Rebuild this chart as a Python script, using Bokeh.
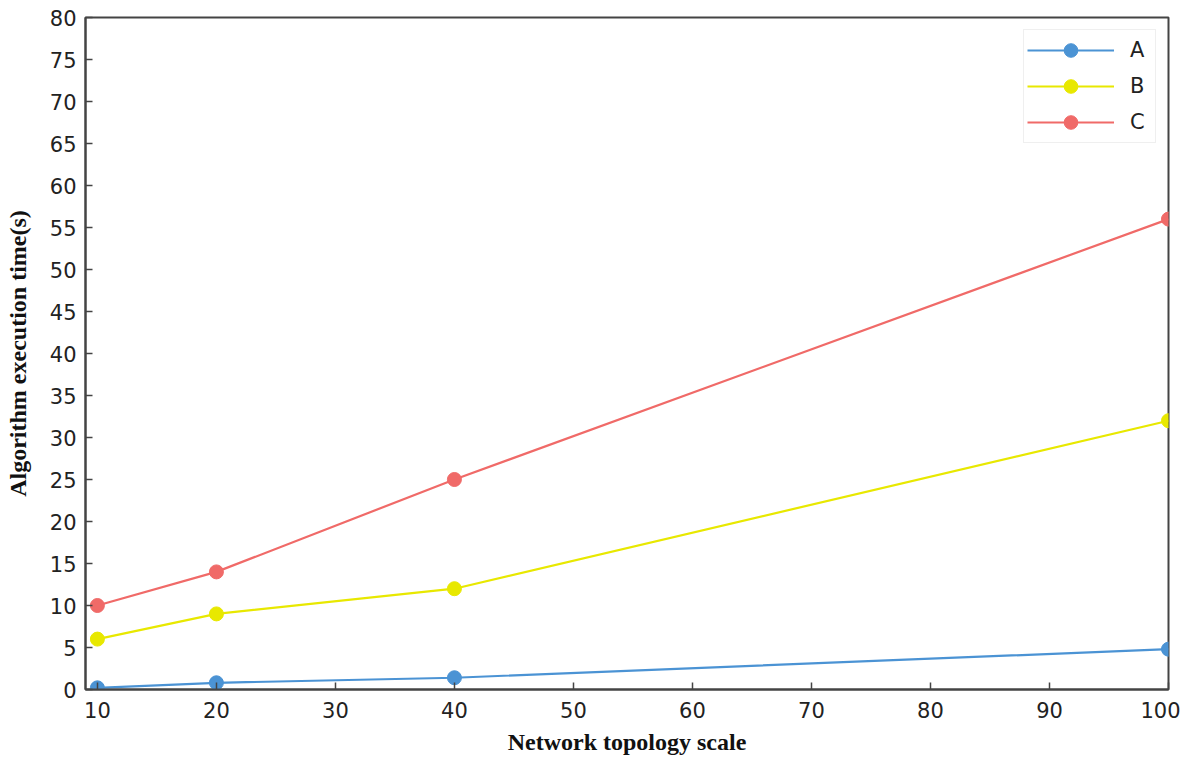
from bokeh.plotting import figure
from bokeh.embed import file_html
from bokeh.resources import INLINE
from bokeh.models import Range1d, FixedTicker, Legend, LegendItem

x_vals = [10, 20, 40, 100]
series_a = [0.2, 0.8, 1.4, 4.8]
series_b = [6, 9, 12, 32]
series_c = [10, 14, 25, 56]
names = ["A", "B", "C"]
colors = ["#4b93d4", "#e8e800", "#f06a68"]
x_ticks = [10, 20, 30, 40, 50, 60, 70, 80, 90, 100]
y_ticks = list(range(0, 81, 5))

p = figure(width=1180, height=757, output_backend="svg", toolbar_location=None,
           x_range=Range1d(9, 100), y_range=Range1d(0, 80),
           min_border_left=85, min_border_right=12, min_border_top=17, min_border_bottom=67)
p.xgrid.visible = False
p.ygrid.visible = False
p.outline_line_color = "#444444"
p.outline_line_width = 2
p.outline_line_alpha = 1

items = []
for name, ys, c in zip(names, [series_a, series_b, series_c], colors):
    l = p.line(x_vals, ys, line_color=c, line_width=2.2)
    s = p.scatter(x_vals, ys, size=14, fill_color=c, line_color=c)
    items.append(LegendItem(label=name, renderers=[l, s]))

for ax in (p.xaxis[0], p.yaxis[0]):
    ax.axis_line_color = "#444444"
    ax.axis_line_width = 2
    ax.major_tick_in = 7
    ax.major_tick_out = 0
    ax.minor_tick_line_color = None
    ax.major_tick_line_color = "#444444"
    ax.major_tick_line_width = 1.5
    ax.major_label_text_font = "DejaVu Sans"
    ax.major_label_text_font_size = "21px"
    ax.major_label_text_color = "#222222"
    ax.axis_label_text_font = "Liberation Serif"
    ax.axis_label_text_font_style = "bold"
    ax.axis_label_text_font_size = "24px"
    ax.axis_label_text_color = "#111111"

p.xaxis[0].ticker = FixedTicker(ticks=x_ticks)
p.yaxis[0].ticker = FixedTicker(ticks=y_ticks)
p.xaxis[0].axis_label = "Network topology scale"
p.yaxis[0].axis_label = "Algorithm execution time(s)"
p.xaxis[0].major_label_standoff = 12
p.yaxis[0].major_label_standoff = 9
p.xaxis[0].axis_label_standoff = 8
p.yaxis[0].axis_label_standoff = 16

legend = Legend(items=items, location="top_right")
legend.label_text_font = "DejaVu Sans"
legend.label_text_font_size = "21px"
legend.label_text_color = "#222222"
legend.glyph_width = 87
legend.glyph_height = 34
legend.spacing = 2
legend.padding = 3
legend.margin = 12
legend.border_line_color = "#e0e0e0"
legend.border_line_width = 1
legend.label_standoff = 16
legend.label_width = 22
p.add_layout(legend)

open("out.html", "w").write(file_html(p, INLINE))
